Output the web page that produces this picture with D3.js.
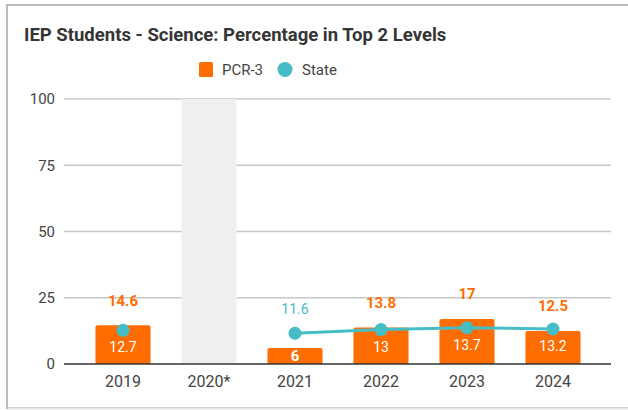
<!DOCTYPE html>
<html>
<head>
<meta charset="utf-8">
<script src="https://d3js.org/d3.v7.min.js"></script>
<style>
  body { margin: 0; background: #fff; }
  text { font-family: Roboto, "Noto Sans", sans-serif; }
</style>
</head>
<body>
<div id="chart"></div>
<script>
// Chart data
var years = ["2019", "2020*", "2021", "2022", "2023", "2024"];
var pcrValues = [14.6, null, 6, 13.8, 17, 12.5];
var stateValues = [12.7, null, 11.6, 13, 13.7, 13.2];
var yTicks = [0, 25, 50, 75, 100];
var missingYears = ["2020*"];

var width = 628;
var height = 410;
var orange = "#ff6d01";
var teal = "#46bdc6";

var svg = d3.select("#chart")
  .append("svg")
  .attr("width", width)
  .attr("height", height);

// Card border
svg.append("rect")
  .attr("x", 7).attr("y", 5)
  .attr("width", width).attr("height", 403)
  .attr("fill", "none")
  .attr("stroke", "#bdbdbd")
  .attr("stroke-width", 2);
svg.append("line")
  .attr("x1", 8).attr("x2", width)
  .attr("y1", 408.5).attr("y2", 408.5)
  .attr("stroke", "#e6e6e6")
  .attr("stroke-width", 2);

// Scales
var xScale = d3.scaleBand()
  .domain(years)
  .range([80, 596])
  .paddingInner(0.36)
  .paddingOuter(0.18);

var yScale = d3.scaleLinear()
  .domain([0, 100])
  .range([364, 99]);

// Gridlines
svg.append("g")
  .selectAll("line")
  .data(yTicks.filter(function (d) { return d !== 0; }))
  .enter().append("line")
  .attr("x1", 64).attr("x2", 611)
  .attr("y1", function (d) { return yScale(d); })
  .attr("y2", function (d) { return yScale(d); })
  .attr("stroke", "#c8c8c8")
  .attr("stroke-width", 1.3);

// Y axis labels
svg.append("g")
  .selectAll("text")
  .data(yTicks)
  .enter().append("text")
  .attr("x", 55)
  .attr("y", function (d) { return yScale(d); })
  .attr("dy", "0.36em")
  .attr("text-anchor", "end")
  .style("font-size", "15px")
  .style("fill", "#444")
  .text(function (d) { return d; });

// Missing-data band
svg.append("g")
  .selectAll("rect")
  .data(missingYears)
  .enter().append("rect")
  .attr("x", function (d) { return xScale(d); })
  .attr("width", xScale.bandwidth())
  .attr("y", yScale(100))
  .attr("height", yScale(0) - yScale(100))
  .attr("fill", "#efefef");

var rows = years.map(function (y, i) {
  return { year: y, pcr: pcrValues[i], state: stateValues[i] };
});

// Bars
svg.append("g")
  .selectAll("path")
  .data(rows.filter(function (d) { return d.pcr != null; }))
  .enter().append("path")
  .attr("fill", orange)
  .attr("d", function (d) {
    var x0 = xScale(d.year), w = xScale.bandwidth();
    var y0 = yScale(d.pcr), y1 = yScale(0), r = 2;
    return "M" + x0 + "," + y1 + "V" + (y0 + r) + "Q" + x0 + "," + y0 + " " + (x0 + r) + "," + y0 +
      "H" + (x0 + w - r) + "Q" + (x0 + w) + "," + y0 + " " + (x0 + w) + "," + (y0 + r) + "V" + y1 + "Z";
  });

// Baseline
svg.append("line")
  .attr("x1", 64).attr("x2", 611)
  .attr("y1", yScale(0)).attr("y2", yScale(0))
  .attr("stroke", "#333")
  .attr("stroke-width", 1.5);

// X axis labels
svg.append("g")
  .selectAll("text")
  .data(years)
  .enter().append("text")
  .attr("x", function (d) { return xScale(d) + xScale.bandwidth() / 2; })
  .attr("y", 387)
  .attr("text-anchor", "middle")
  .style("font-size", "16px")
  .style("fill", "#444")
  .text(function (d) { return d; });

// State line
var cx = function (d) { return xScale(d.year) + xScale.bandwidth() / 2; };
var line = d3.line()
  .defined(function (d) { return d.state != null; })
  .x(cx)
  .y(function (d) { return yScale(d.state); });

svg.append("path")
  .datum(rows)
  .attr("fill", "none")
  .attr("stroke", teal)
  .attr("stroke-width", 3)
  .attr("d", line);

svg.append("g")
  .selectAll("circle")
  .data(rows.filter(function (d) { return d.state != null; }))
  .enter().append("circle")
  .attr("cx", cx)
  .attr("cy", function (d) { return yScale(d.state); })
  .attr("r", 6.5)
  .attr("fill", teal);

// Value labels: a short bar holds its own label, otherwise the state label sits inside it
var labelled = rows.filter(function (d) { return d.pcr != null; });
var isShort = function (d) { return yScale(0) - yScale(d.pcr) < 25; };

svg.append("g")
  .selectAll("text")
  .data(labelled)
  .enter().append("text")
  .attr("x", cx)
  .attr("y", function (d) {
    return isShort(d) ? (yScale(d.pcr) + yScale(0)) / 2 : yScale(d.pcr) - 25;
  })
  .attr("dy", "0.36em")
  .attr("text-anchor", "middle")
  .style("font-size", "15px")
  .style("font-weight", "bold")
  .style("fill", function (d) { return isShort(d) ? "#fff" : orange; })
  .text(function (d) { return d.pcr; });

svg.append("g")
  .selectAll("text")
  .data(labelled)
  .enter().append("text")
  .attr("x", cx)
  .attr("y", function (d) {
    return isShort(d) ? yScale(d.state) - 24 : yScale(d.state) + 17;
  })
  .attr("dy", "0.36em")
  .attr("text-anchor", "middle")
  .style("font-size", "14px")
  .style("fill", function (d) { return isShort(d) ? teal : "#fff"; })
  .text(function (d) { return d.state; });

// Title
svg.append("text")
  .attr("x", 24)
  .attr("y", 41)
  .style("font-size", "18.5px")
  .style("font-weight", "bold")
  .style("fill", "#353535")
  .text("IEP Students - Science: Percentage in Top 2 Levels");

// Legend
var legend = svg.append("g");
legend.append("rect")
  .attr("x", 199).attr("y", 62)
  .attr("width", 14).attr("height", 15)
  .attr("rx", 1.5)
  .attr("fill", orange);
legend.append("text")
  .attr("x", 222).attr("y", 75)
  .style("font-size", "15px")
  .style("fill", "#444")
  .text("PCR-3");
legend.append("circle")
  .attr("cx", 285).attr("cy", 69.5)
  .attr("r", 7.5)
  .attr("fill", teal);
legend.append("text")
  .attr("x", 302).attr("y", 75)
  .style("font-size", "15px")
  .style("fill", "#444")
  .text("State");
</script>
</body>
</html>
